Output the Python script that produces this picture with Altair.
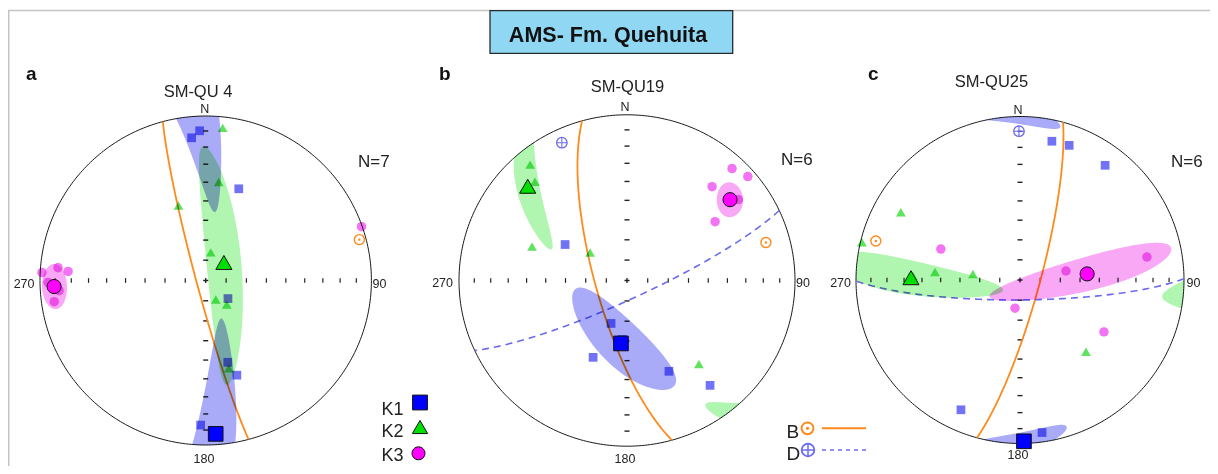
import numpy as np
import pandas as pd
import altair as alt

# ----------------------------- data -----------------------------
# specimen principal axes, trend / plunge in degrees (lower hemisphere)
a_k1_trend = [357.7, 354.4, 19.7, 129.3, 165.0, 161.9, 182.0]
a_k1_plunge = [9.8, 13.9, 40.5, 75.9, 47.3, 39.3, 13.1]
a_k2_trend = [6.3, 7.5, 340.2, 10.1, 152.2, 138.8, 165.4]
a_k2_plunge = [7.4, 39.4, 50.0, 75.9, 79.4, 74.3, 44.1]
a_k3_trend = [272.8, 275.0, 273.8, 262.0, 70.8, 269.3, 266.0]
a_k3_plunge = [1.2, 11.5, 17.9, 8.5, 0.5, 5.4, 12.3]

b_k1_trend = [200.1, 203.5, 155.5, 142.0, 300.5, 184.8]
b_k1_plunge = [67.5, 48.1, 39.6, 20.8, 54.8, 60.8]
b_k2_trend = [320.5, 317.4, 289.9, 139.7, 307.5, 312.4]
b_k2_plunge = [10.3, 20.1, 39.7, 34.2, 67.4, 19.8]
b_k3_trend = [42.8, 48.9, 41.8, 55.9, 53.6, 50.5]
b_k3_plunge = [8.8, 5.1, 25.0, 36.8, 18.8, 22.5]

c_k1_trend = [12.9, 20.0, 36.5, 204.4, 171.8, 179.3]
c_k1_plunge = [14.0, 13.4, 13.8, 13.9, 6.4, 2.0]
c_k2_trend = [283.5, 275.4, 277.3, 299.7, 137.5, 272.1]
c_k2_plunge = [1.0, 46.8, 66.4, 17.5, 40.2, 35.0]
c_k3_trend = [291.4, 78.9, 79.7, 190.0, 121.8, 86.7]
c_k3_plunge = [47.0, 66.7, 22.4, 75.8, 39.6, 55.4]

# site mean axes (sites a, b, c)
mean_k1_trend = [176.3, 185.4, 178.6]
mean_k1_plunge = [7.3, 58.7, 1.5]
mean_k2_trend = [45.0, 313.9, 271.2]
mean_k2_plunge = [77.4, 19.1, 33.9]
mean_k3_trend = [267.7, 51.5, 84.8]
mean_k3_plunge = [9.3, 22.7, 56.2]

# 95% confidence ellipses: long / short semi-angles and direction of the long axis
ell_k1_long = [63.5, 34.0, 17.0]
ell_k1_short = [7.5, 11.0, 6.0]
ell_k1_dir_trend = [155.0, 313.9, 90.0]
ell_k1_dir_plunge = [72.0, 19.1, 20.0]
ell_k2_long = [62.0, 35.0, 48.0]
ell_k2_short = [8.5, 5.0, 7.5]
ell_k2_dir_trend = [169.0, 185.4, 240.0]
ell_k2_dir_plunge = [34.0, 58.7, 80.0]
ell_k3_long = [8.5, 9.0, 50.0]
ell_k3_short = [8.0, 6.0, 8.0]
ell_k3_dir_trend = [178.0, 185.4, 78.0]
ell_k3_dir_plunge = [0.0, 58.7, 6.0]

# poles: B (orange, solid great circle), D (blue, dashed great circle)
pole_b_trend = [75.0, 74.5, 285.2]
pole_b_plunge = [4.5, 15.3, 9.8]
pole_d_trend = [None, 335.0, 359.6]
pole_d_plunge = [None, 9.1, 9.9]

site_names = ["SM-QU 4", "SM-QU19", "SM-QU25"]
panel_letters = ["a", "b", "c"]
n_labels = ["N=7", "N=6", "N=6"]
tick_plunges = [10, 20, 30, 40, 50, 60, 70, 80]
main_title = "AMS- Fm. Quehuita"

# ----------------------------- layout -----------------------------
OFF = 8
W, H = 1202, 458
CX = [205.7, 627.0, 1020.0]
CY = [280.5, 280.5, 280.0]
RX = [165.7, 168.0, 164.0]
RY = [164.5, 165.7, 163.5]
FONT = "Liberation Sans"

BLUE_I, GREEN_I, PINK_I = "#7272f4", "#5fe35f", "#f274f2"
BLUE_E, GREEN_E, PINK_E = "#a9abf8", "#b0f5b0", "#f8a8f4"
ORANGE, DBLUE = "#ff8a1c", "#6b6bf0"


def vec(tr, pl):
    t, p = np.radians(tr), np.radians(pl)
    return np.array([np.cos(p) * np.cos(t), np.cos(p) * np.sin(t), np.sin(p)])


def to_xy(pts, k):
    pts = np.atleast_2d(pts)
    s = np.sqrt(1.0 + np.clip(pts[:, 2], 0, 1))
    X = pts[:, 1] / s
    Y = pts[:, 0] / s
    return CX[k] - OFF + RX[k] * X, CY[k] - OFF - RY[k] * Y


def horizon(p):
    h = np.array([p[0], p[1], 0.0])
    return h / np.linalg.norm(h)


def crossing(a, b):
    t = a[2] / (a[2] - b[2])
    return horizon(a + t * (b - a))


def arc(p_from, p_to, n=24):
    a0 = np.arctan2(p_from[1], p_from[0])
    a1 = np.arctan2(p_to[1], p_to[0])
    d = (a1 - a0 + np.pi) % (2 * np.pi) - np.pi
    ang = a0 + d * np.linspace(0, 1, n)[1:-1]
    return [np.array([np.cos(a), np.sin(a), 0.0]) for a in ang]


def ellipse_pieces(mtr, mpl, dtr, dpl, along, across, n=360):
    v = vec(mtr, mpl)
    t = vec(dtr, dpl)
    u1 = t - t.dot(v) * v
    u1 /= np.linalg.norm(u1)
    u2 = np.cross(v, u1)
    phi = np.linspace(0, 2 * np.pi, n, endpoint=False)
    w = (v + np.tan(np.radians(along)) * np.cos(phi)[:, None] * u1
         + np.tan(np.radians(across)) * np.sin(phi)[:, None] * u2)
    w /= np.linalg.norm(w, axis=1)[:, None]
    down = w[:, 2] >= 0
    if down.all():
        return [w]
    if (~down).all():
        return [-w]
    k0 = int(np.argmax(down != np.roll(down, 1)))
    w = np.roll(w, -k0, axis=0)
    down = np.roll(down, -k0)
    pieces, start = [], 0
    for k in range(1, n + 1):
        if k == n or down[k] != down[start]:
            c0 = crossing(w[start - 1], w[start])
            c1 = crossing(w[k - 1], w[k % n])
            pts = [c0] + list(w[start:k]) + [c1]
            sign = 1.0 if down[start] else -1.0
            pts = [sign * p for p in pts]
            pts = pts + arc(pts[-1], pts[0])
            pieces.append(np.array(pts))
            start = k
    return pieces


def great_circle(ptr, ppl, n=181):
    p = vec(ptr, ppl)
    s = np.array([-np.sin(np.radians(ptr)), np.cos(np.radians(ptr)), 0.0])
    q = np.cross(p, s)
    if q[2] < 0:
        q = -q
    phi = np.linspace(0, np.pi, n)
    return np.cos(phi)[:, None] * s + np.sin(phi)[:, None] * q


# ----------------------------- tables -----------------------------
site_axes = [
    [(a_k1_trend, a_k1_plunge), (a_k2_trend, a_k2_plunge), (a_k3_trend, a_k3_plunge)],
    [(b_k1_trend, b_k1_plunge), (b_k2_trend, b_k2_plunge), (b_k3_trend, b_k3_plunge)],
    [(c_k1_trend, c_k1_plunge), (c_k2_trend, c_k2_plunge), (c_k3_trend, c_k3_plunge)],
]
means = [(mean_k1_trend, mean_k1_plunge), (mean_k2_trend, mean_k2_plunge),
         (mean_k3_trend, mean_k3_plunge)]
ells = [
    (ell_k1_dir_trend, ell_k1_dir_plunge, ell_k1_long, ell_k1_short),
    (ell_k2_dir_trend, ell_k2_dir_plunge, ell_k2_long, ell_k2_short),
    (ell_k3_dir_trend, ell_k3_dir_plunge, ell_k3_long, ell_k3_short),
]

prim_rows, htick, vtick, centre = [], [], [], []
gc_b, gc_d, ind_rows, mean_rows, ell_rows, b_rows, d_rows = [], [], [], [], [], [], []
pid = 0
for k in range(3):
    pts = np.array([vec(t, 0.0) for t in np.arange(0, 361, 1.0)])
    x, y = to_xy(pts, k)
    prim_rows += [dict(x=a, y=b, g=k, i=j) for j, (a, b) in enumerate(zip(x, y))]
    for pl in tick_plunges:
        for tr in (90, 270):
            x, y = to_xy(vec(tr, pl), k)
            htick.append(dict(x=x[0], y=y[0]))
        for tr in (0, 180):
            x, y = to_xy(vec(tr, pl), k)
            vtick.append(dict(x=x[0], y=y[0]))
    x, y = to_xy(vec(0, 90), k)
    centre.append(dict(x=x[0], y=y[0]))
    # great circles from poles
    x, y = to_xy(great_circle(pole_b_trend[k], pole_b_plunge[k]), k)
    gc_b += [dict(x=a, y=b, g=k, i=j) for j, (a, b) in enumerate(zip(x, y))]
    x, y = to_xy(vec(pole_b_trend[k], pole_b_plunge[k]), k)
    b_rows.append(dict(x=x[0], y=y[0]))
    if pole_d_trend[k] is not None:
        x, y = to_xy(great_circle(pole_d_trend[k], pole_d_plunge[k]), k)
        gc_d += [dict(x=a, y=b, g=k, i=j) for j, (a, b) in enumerate(zip(x, y))]
        x, y = to_xy(vec(pole_d_trend[k], pole_d_plunge[k]), k)
        d_rows.append(dict(x=x[0], y=y[0]))
    for j, kind in enumerate(["K1", "K2", "K3"]):
        tr, pl = site_axes[k][j]
        pts = np.array([vec(t, p) for t, p in zip(tr, pl)])
        x, y = to_xy(pts, k)
        ind_rows += [dict(x=a, y=b, kind=kind) for a, b in zip(x, y)]
        mt, mp = means[j][0][k], means[j][1][k]
        x, y = to_xy(vec(mt, mp), k)
        mean_rows.append(dict(x=x[0], y=y[0], kind=kind))
        dt, dp, lo, sh = ells[j][0][k], ells[j][1][k], ells[j][2][k], ells[j][3][k]
        for piece in ellipse_pieces(mt, mp, dt, dp, lo, sh):
            x, y = to_xy(piece, k)
            ell_rows += [dict(x=a, y=b, pid=pid, i=q, kind=kind)
                         for q, (a, b) in enumerate(zip(x, y))]
            pid += 1

prim = pd.DataFrame(prim_rows)
htick = pd.DataFrame(htick)
vtick = pd.DataFrame(vtick)
centre = pd.DataFrame(centre)
gc_b = pd.DataFrame(gc_b)
gc_d = pd.DataFrame(gc_d)
ind = pd.DataFrame(ind_rows)
mean = pd.DataFrame(mean_rows)
ell = pd.DataFrame(ell_rows)
bpts = pd.DataFrame(b_rows)
dpts = pd.DataFrame(d_rows)

XS = alt.Scale(domain=[0, W], nice=False, zero=False)
YS = alt.Scale(domain=[0, H], nice=False, zero=False, reverse=True)


def enc(**kw):
    d = dict(x=alt.X("x:Q", scale=XS, axis=None), y=alt.Y("y:Q", scale=YS, axis=None))
    d.update(kw)
    return d


def P(x, y, **kw):
    d = dict(x=x - OFF, y=y - OFF)
    d.update(kw)
    return d


layers = []

# frame and title box
frame = pd.DataFrame([dict(x=0, x2=W, y=2.5, y2=2.5), dict(x=0.75, x2=0.75, y=2.5, y2=H)])
layers.append(alt.Chart(frame).mark_rule(color="#c4c4c4", strokeWidth=1.5).encode(
    **enc(x2=alt.X2("x2"), y2=alt.Y2("y2"))))
box = pd.DataFrame([dict(x=490 - OFF, x2=732.7 - OFF, y=10.7 - OFF, y2=53.3 - OFF)])
layers.append(alt.Chart(box).mark_rect(fill="#90d7f3", stroke="#2a2a2a", strokeWidth=1.3).encode(
    **enc(x2=alt.X2("x2"), y2=alt.Y2("y2"))))
layers.append(alt.Chart(pd.DataFrame([P(608, 41.5, t=main_title)])).mark_text(
    font=FONT, fontSize=21.5, fontWeight="bold", color="#111", align="center",
    baseline="alphabetic").encode(**enc(text="t:N")))

# primitive circles, ticks, centre
layers.append(alt.Chart(prim).mark_line(color="#1a1a1a", strokeWidth=1).encode(
    **enc(detail="g:N", order="i:Q")))
layers.append(alt.Chart(htick).mark_point(shape="M0,-1L0,1", size=22, filled=False,
                                          color="#222", strokeWidth=1.2, opacity=1).encode(**enc()))
layers.append(alt.Chart(vtick).mark_point(shape="M-1,0L1,0", size=25, filled=False,
                                          color="#222", strokeWidth=1.4, opacity=1).encode(**enc()))
layers.append(alt.Chart(centre).mark_point(shape="M-1,0L1,0M0,-1L0,1", size=25, filled=False,
                                           color="#222", strokeWidth=1.3, opacity=1).encode(**enc()))

# great circles
layers.append(alt.Chart(gc_b).mark_line(color=ORANGE, strokeWidth=1.8).encode(
    **enc(detail="g:N", order="i:Q")))
layers.append(alt.Chart(gc_d).mark_line(color=DBLUE, strokeWidth=1.6, strokeDash=[7, 5]).encode(
    **enc(detail="g:N", order="i:Q")))

# individual specimens
for kind, shape, col, size in [("K1", "square", BLUE_I, 76), ("K2", "triangle-up", GREEN_I, 95),
                               ("K3", "circle", PINK_I, 90)]:
    layers.append(alt.Chart(ind[ind.kind == kind]).mark_point(
        shape=shape, filled=True, color=col, size=size, opacity=1, blend="multiply").encode(**enc()))

# confidence ellipses
for kind, col in [("K1", BLUE_E), ("K2", GREEN_E), ("K3", PINK_E)]:
    layers.append(alt.Chart(ell[ell.kind == kind]).mark_line(
        fill=col, strokeOpacity=0, strokeWidth=0, blend="multiply").encode(
        **enc(detail="pid:N", order="i:Q")))

# means
for kind, shape, col, size in [("K1", "square", "#0000ff", 215), ("K2", "triangle-up", "#00e000", 260),
                               ("K3", "circle", "#ff00ff", 200)]:
    layers.append(alt.Chart(mean[mean.kind == kind]).mark_point(
        shape=shape, filled=True, fill=col, stroke="#111", strokeWidth=1, size=size,
        opacity=1).encode(**enc()))

# B and D poles
layers.append(alt.Chart(bpts).mark_point(shape="circle", filled=False, color=ORANGE, size=100,
                                         strokeWidth=1.4, opacity=1).encode(**enc()))
layers.append(alt.Chart(bpts).mark_point(shape="circle", filled=True, color=ORANGE, size=6,
                                         opacity=1).encode(**enc()))
layers.append(alt.Chart(dpts).mark_point(shape="circle", filled=False, color=DBLUE, size=110,
                                         strokeWidth=1.3, opacity=1).encode(**enc()))
layers.append(alt.Chart(dpts).mark_point(shape="M-1,0L1,0M0,-1L0,1", filled=False, color=DBLUE,
                                         size=110, strokeWidth=1.1, opacity=1).encode(**enc()))

# legends
leg_k = pd.DataFrame([P(420, 402.5, kind="K1"), P(420, 427, kind="K2"), P(418.5, 453.3, kind="K3")])
for kind, shape, col, size in [("K1", "square", "#0000ff", 220), ("K2", "triangle-up", "#00e000", 230),
                               ("K3", "circle", "#ff00ff", 170)]:
    layers.append(alt.Chart(leg_k[leg_k.kind == kind]).mark_point(
        shape=shape, filled=True, fill=col, stroke="#111", strokeWidth=1, size=size,
        opacity=1).encode(**enc()))
leg_lines = pd.DataFrame([P(822, 428.3, x2=866 - OFF, k="B"), P(822, 450, x2=866 - OFF, k="D")])
layers.append(alt.Chart(leg_lines[leg_lines.k == "B"]).mark_rule(color=ORANGE, strokeWidth=2).encode(
    **enc(x2=alt.X2("x2"))))
layers.append(alt.Chart(leg_lines[leg_lines.k == "D"]).mark_rule(
    color=DBLUE, strokeWidth=1.6, strokeDash=[4, 4]).encode(**enc(x2=alt.X2("x2"))))
leg_b = pd.DataFrame([P(807.5, 428.3)])
leg_d = pd.DataFrame([P(808, 450)])
layers.append(alt.Chart(leg_b).mark_point(shape="circle", filled=False, color=ORANGE, size=140,
                                          strokeWidth=2, opacity=1).encode(**enc()))
layers.append(alt.Chart(leg_b).mark_point(shape="circle", filled=True, color=ORANGE, size=10,
                                          opacity=1).encode(**enc()))
layers.append(alt.Chart(leg_d).mark_point(shape="circle", filled=False, color=DBLUE, size=160,
                                          strokeWidth=1.8, opacity=1).encode(**enc()))
layers.append(alt.Chart(leg_d).mark_point(shape="M-1,0L1,0M0,-1L0,1", filled=False, color=DBLUE,
                                          size=160, strokeWidth=1.5, opacity=1).encode(**enc()))

# texts
def text_layer(rows, size, align, weight="normal", color="#222"):
    return alt.Chart(pd.DataFrame(rows)).mark_text(
        font=FONT, fontSize=size, fontWeight=weight, color=color, align=align,
        baseline="alphabetic").encode(**enc(text="t:N"))


letter_x = [26, 439, 868]
title_x = [198, 627.5, 991.5]
title_b = [97, 92, 87]
count_x = [358, 781, 1171]
count_b = [167, 165, 167]
n_x = [204.7, 625, 1018]
n_b = [113, 111, 114]
w_x = [34.5, 453, 851]
e_x = [372.5, 796, 1186.5]
we_b = [288, 287, 287]
s_x = [204, 625, 1018]
s_b = [462.5, 463, 459]

layers.append(text_layer([P(letter_x[k], 80, t=panel_letters[k]) for k in range(3)], 19, "left",
                         "bold", "#111"))
layers.append(text_layer([P(title_x[k], title_b[k], t=site_names[k]) for k in range(3)], 16.5,
                         "center"))
layers.append(text_layer([P(count_x[k], count_b[k], t=n_labels[k]) for k in range(3)], 17, "left"))
layers.append(text_layer([P(n_x[k], n_b[k], t="N") for k in range(3)], 12.5, "center"))
layers.append(text_layer([P(w_x[k], we_b[k], t="270") for k in range(3)], 12.5, "right"))
layers.append(text_layer([P(e_x[k], we_b[k], t="90") for k in range(3)], 12.5, "left"))
layers.append(text_layer([P(s_x[k], s_b[k], t="180") for k in range(3)], 12.5, "center"))
layers.append(text_layer([P(381.5, 415, t="K1"), P(381.5, 436.7, t="K2"), P(381.5, 461, t="K3")],
                         18, "left"))
layers.append(text_layer([P(786.5, 438, t="B"), P(786.5, 459.5, t="D")], 19, "left"))

chart = alt.layer(*layers).properties(
    width=W, height=H, padding=0, background="white",
    autosize=alt.AutoSizeParams(type="none"),
).configure_view(stroke=None)

chart.save("out.html", embed_options={"renderer": "svg", "actions": False})
